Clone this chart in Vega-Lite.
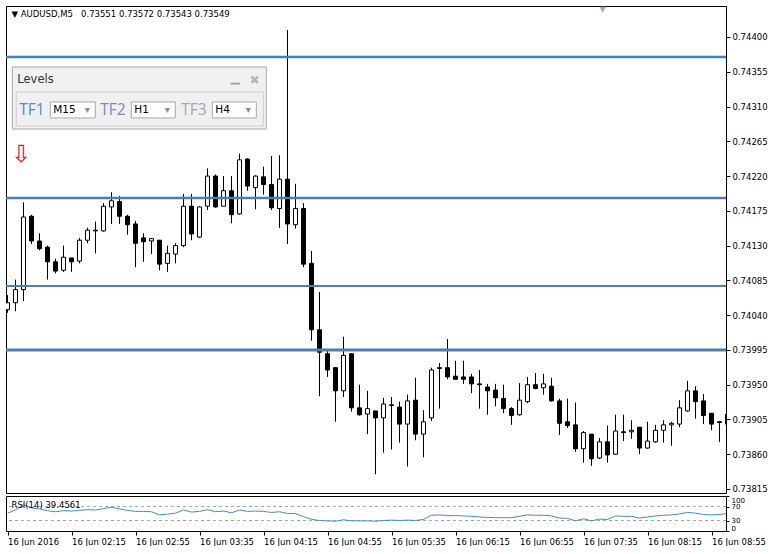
{
  "$schema": "https://vega.github.io/schema/vega-lite/v6.json",
  "padding": {"left": 4, "top": 5, "right": 0, "bottom": 0},
  "background": "white",
  "spacing": 3,
  "bounds": "flush",
  "config": {
    "font": "DejaVu Sans",
    "view": {"stroke": "black", "strokeWidth": 1},
    "scale": {"continuousPadding": 0},
    "axis": {"grid": false, "domain": false, "tickColor": "black", "labelColor": "black", "labelFont": "DejaVu Sans", "labelFontSize": 8.5, "labelOverlap": false, "labelSeparation": 0}
  },
  "datasets": {
    "bars": [
      {"t":"2016-06-16 01:35","open":0.74047,"high":0.74066,"low":0.74043,"close":0.74056,"rsi":51},
      {"t":"2016-06-16 01:40","open":0.74056,"high":0.74086,"low":0.74045,"close":0.74073,"rsi":60},
      {"t":"2016-06-16 01:45","open":0.74073,"high":0.74186,"low":0.74058,"close":0.74167,"rsi":75},
      {"t":"2016-06-16 01:50","open":0.74168,"high":0.74170,"low":0.74132,"close":0.74136,"rsi":66},
      {"t":"2016-06-16 01:55","open":0.74136,"high":0.74146,"low":0.74124,"close":0.74126,"rsi":63},
      {"t":"2016-06-16 02:00","open":0.74128,"high":0.74130,"low":0.74086,"close":0.74109,"rsi":58},
      {"t":"2016-06-16 02:05","open":0.74109,"high":0.74113,"low":0.74094,"close":0.74097,"rsi":55},
      {"t":"2016-06-16 02:10","open":0.74098,"high":0.74130,"low":0.74096,"close":0.74115,"rsi":58},
      {"t":"2016-06-16 02:15","open":0.74114,"high":0.74114,"low":0.74096,"close":0.74109,"rsi":57},
      {"t":"2016-06-16 02:20","open":0.74110,"high":0.74140,"low":0.74107,"close":0.74137,"rsi":59},
      {"t":"2016-06-16 02:25","open":0.74137,"high":0.74153,"low":0.74133,"close":0.74150,"rsi":61},
      {"t":"2016-06-16 02:30","open":0.74149,"high":0.74161,"low":0.74120,"close":0.74150,"rsi":60},
      {"t":"2016-06-16 02:35","open":0.74149,"high":0.74185,"low":0.74148,"close":0.74181,"rsi":64},
      {"t":"2016-06-16 02:40","open":0.74180,"high":0.74199,"low":0.74158,"close":0.74188,"rsi":68},
      {"t":"2016-06-16 02:45","open":0.74187,"high":0.74194,"low":0.74158,"close":0.74168,"rsi":63},
      {"t":"2016-06-16 02:50","open":0.74168,"high":0.74170,"low":0.74144,"close":0.74157,"rsi":59},
      {"t":"2016-06-16 02:55","open":0.74158,"high":0.74162,"low":0.74102,"close":0.74133,"rsi":56},
      {"t":"2016-06-16 03:00","open":0.74140,"high":0.74146,"low":0.74109,"close":0.74135,"rsi":56},
      {"t":"2016-06-16 03:05","open":0.74136,"high":0.74139,"low":0.74119,"close":0.74139,"rsi":55},
      {"t":"2016-06-16 03:10","open":0.74137,"high":0.74137,"low":0.74098,"close":0.74106,"rsi":46},
      {"t":"2016-06-16 03:15","open":0.74107,"high":0.74130,"low":0.74096,"close":0.74120,"rsi":48},
      {"t":"2016-06-16 03:20","open":0.74119,"high":0.74133,"low":0.74107,"close":0.74130,"rsi":51},
      {"t":"2016-06-16 03:25","open":0.74130,"high":0.74197,"low":0.74128,"close":0.74181,"rsi":60},
      {"t":"2016-06-16 03:30","open":0.74181,"high":0.74197,"low":0.74137,"close":0.74145,"rsi":54},
      {"t":"2016-06-16 03:35","open":0.74141,"high":0.74181,"low":0.74140,"close":0.74180,"rsi":56},
      {"t":"2016-06-16 03:40","open":0.74181,"high":0.74230,"low":0.74176,"close":0.74220,"rsi":61},
      {"t":"2016-06-16 03:45","open":0.74220,"high":0.74222,"low":0.74179,"close":0.74180,"rsi":55},
      {"t":"2016-06-16 03:50","open":0.74181,"high":0.74220,"low":0.74181,"close":0.74201,"rsi":57},
      {"t":"2016-06-16 03:55","open":0.74201,"high":0.74220,"low":0.74159,"close":0.74170,"rsi":52},
      {"t":"2016-06-16 04:00","open":0.74171,"high":0.74249,"low":0.74170,"close":0.74241,"rsi":60},
      {"t":"2016-06-16 04:05","open":0.74242,"high":0.74243,"low":0.74201,"close":0.74207,"rsi":56},
      {"t":"2016-06-16 04:10","open":0.74205,"high":0.74221,"low":0.74177,"close":0.74220,"rsi":57},
      {"t":"2016-06-16 04:15","open":0.74219,"high":0.74232,"low":0.74196,"close":0.74209,"rsi":56},
      {"t":"2016-06-16 04:20","open":0.74209,"high":0.74246,"low":0.74176,"close":0.74179,"rsi":53},
      {"t":"2016-06-16 04:25","open":0.74178,"high":0.74247,"low":0.74153,"close":0.74216,"rsi":55},
      {"t":"2016-06-16 04:30","open":0.74216,"high":0.74409,"low":0.74132,"close":0.74158,"rsi":50},
      {"t":"2016-06-16 04:35","open":0.74157,"high":0.74210,"low":0.74152,"close":0.74178,"rsi":50},
      {"t":"2016-06-16 04:40","open":0.74178,"high":0.74185,"low":0.74102,"close":0.74106,"rsi":41},
      {"t":"2016-06-16 04:45","open":0.74107,"high":0.74123,"low":0.74007,"close":0.74021,"rsi":33},
      {"t":"2016-06-16 04:50","open":0.74021,"high":0.74070,"low":0.73935,"close":0.73992,"rsi":30},
      {"t":"2016-06-16 04:55","open":0.73990,"high":0.73994,"low":0.73960,"close":0.73969,"rsi":29},
      {"t":"2016-06-16 05:00","open":0.73972,"high":0.73973,"low":0.73902,"close":0.73942,"rsi":28},
      {"t":"2016-06-16 05:05","open":0.73942,"high":0.74012,"low":0.73934,"close":0.73988,"rsi":32},
      {"t":"2016-06-16 05:10","open":0.73990,"high":0.73990,"low":0.73915,"close":0.73920,"rsi":29},
      {"t":"2016-06-16 05:15","open":0.73920,"high":0.73950,"low":0.73910,"close":0.73911,"rsi":29},
      {"t":"2016-06-16 05:20","open":0.73912,"high":0.73942,"low":0.73886,"close":0.73919,"rsi":29},
      {"t":"2016-06-16 05:25","open":0.73916,"high":0.73916,"low":0.73834,"close":0.73907,"rsi":28},
      {"t":"2016-06-16 05:30","open":0.73907,"high":0.73933,"low":0.73862,"close":0.73925,"rsi":30},
      {"t":"2016-06-16 05:35","open":0.73923,"high":0.73934,"low":0.73866,"close":0.73924,"rsi":31},
      {"t":"2016-06-16 05:40","open":0.73921,"high":0.73928,"low":0.73875,"close":0.73899,"rsi":30},
      {"t":"2016-06-16 05:45","open":0.73899,"high":0.73937,"low":0.73844,"close":0.73929,"rsi":31},
      {"t":"2016-06-16 05:50","open":0.73930,"high":0.73959,"low":0.73878,"close":0.73886,"rsi":30},
      {"t":"2016-06-16 05:55","open":0.73886,"high":0.73917,"low":0.73856,"close":0.73902,"rsi":33},
      {"t":"2016-06-16 06:00","open":0.73907,"high":0.73972,"low":0.73903,"close":0.73969,"rsi":45},
      {"t":"2016-06-16 06:05","open":0.73972,"high":0.73978,"low":0.73919,"close":0.73971,"rsi":46},
      {"t":"2016-06-16 06:10","open":0.73972,"high":0.74009,"low":0.73957,"close":0.73960,"rsi":44},
      {"t":"2016-06-16 06:15","open":0.73961,"high":0.73981,"low":0.73957,"close":0.73957,"rsi":44},
      {"t":"2016-06-16 06:20","open":0.73960,"high":0.73981,"low":0.73951,"close":0.73957,"rsi":43},
      {"t":"2016-06-16 06:25","open":0.73960,"high":0.73964,"low":0.73939,"close":0.73951,"rsi":42},
      {"t":"2016-06-16 06:30","open":0.73951,"high":0.73969,"low":0.73919,"close":0.73950,"rsi":40},
      {"t":"2016-06-16 06:35","open":0.73947,"high":0.73951,"low":0.73911,"close":0.73942,"rsi":39},
      {"t":"2016-06-16 06:40","open":0.73943,"high":0.73951,"low":0.73922,"close":0.73933,"rsi":38},
      {"t":"2016-06-16 06:45","open":0.73932,"high":0.73950,"low":0.73913,"close":0.73919,"rsi":38},
      {"t":"2016-06-16 06:50","open":0.73919,"high":0.73921,"low":0.73898,"close":0.73910,"rsi":38},
      {"t":"2016-06-16 06:55","open":0.73911,"high":0.73952,"low":0.73910,"close":0.73930,"rsi":42},
      {"t":"2016-06-16 07:00","open":0.73928,"high":0.73960,"low":0.73926,"close":0.73950,"rsi":46},
      {"t":"2016-06-16 07:05","open":0.73950,"high":0.73965,"low":0.73944,"close":0.73945,"rsi":45},
      {"t":"2016-06-16 07:10","open":0.73946,"high":0.73964,"low":0.73937,"close":0.73951,"rsi":45},
      {"t":"2016-06-16 07:15","open":0.73948,"high":0.73959,"low":0.73928,"close":0.73929,"rsi":43},
      {"t":"2016-06-16 07:20","open":0.73929,"high":0.73932,"low":0.73885,"close":0.73900,"rsi":37},
      {"t":"2016-06-16 07:25","open":0.73902,"high":0.73932,"low":0.73894,"close":0.73897,"rsi":36},
      {"t":"2016-06-16 07:30","open":0.73898,"high":0.73927,"low":0.73863,"close":0.73867,"rsi":29},
      {"t":"2016-06-16 07:35","open":0.73867,"high":0.73890,"low":0.73849,"close":0.73888,"rsi":35},
      {"t":"2016-06-16 07:40","open":0.73886,"high":0.73886,"low":0.73845,"close":0.73854,"rsi":29},
      {"t":"2016-06-16 07:45","open":0.73855,"high":0.73881,"low":0.73854,"close":0.73876,"rsi":34},
      {"t":"2016-06-16 07:50","open":0.73876,"high":0.73897,"low":0.73849,"close":0.73859,"rsi":33},
      {"t":"2016-06-16 07:55","open":0.73860,"high":0.73911,"low":0.73859,"close":0.73890,"rsi":43},
      {"t":"2016-06-16 08:00","open":0.73889,"high":0.73911,"low":0.73877,"close":0.73888,"rsi":42},
      {"t":"2016-06-16 08:05","open":0.73889,"high":0.73904,"low":0.73880,"close":0.73891,"rsi":42},
      {"t":"2016-06-16 08:10","open":0.73895,"high":0.73895,"low":0.73860,"close":0.73868,"rsi":37},
      {"t":"2016-06-16 08:15","open":0.73868,"high":0.73902,"low":0.73867,"close":0.73877,"rsi":40},
      {"t":"2016-06-16 08:20","open":0.73876,"high":0.73898,"low":0.73875,"close":0.73891,"rsi":43},
      {"t":"2016-06-16 08:25","open":0.73891,"high":0.73904,"low":0.73875,"close":0.73898,"rsi":45},
      {"t":"2016-06-16 08:30","open":0.73898,"high":0.73902,"low":0.73871,"close":0.73900,"rsi":46},
      {"t":"2016-06-16 08:35","open":0.73899,"high":0.73930,"low":0.73895,"close":0.73920,"rsi":49},
      {"t":"2016-06-16 08:40","open":0.73916,"high":0.73955,"low":0.73915,"close":0.73942,"rsi":53},
      {"t":"2016-06-16 08:45","open":0.73942,"high":0.73948,"low":0.73906,"close":0.73928,"rsi":51},
      {"t":"2016-06-16 08:50","open":0.73929,"high":0.73938,"low":0.73899,"close":0.73910,"rsi":47},
      {"t":"2016-06-16 08:55","open":0.73913,"high":0.73913,"low":0.73891,"close":0.73899,"rsi":46},
      {"t":"2016-06-16 09:00","open":0.73902,"high":0.73903,"low":0.73876,"close":0.73901,"rsi":47},
      {"t":"2016-06-16 09:05","open":0.73899,"high":0.73917,"low":0.73881,"close":0.73912,"rsi":50}
    ],
    "levels": [
      {"price": 0.743741, "timeframe": "H1"},
      {"price": 0.741916, "timeframe": "H1"},
      {"price": 0.740777, "timeframe": "M15"},
      {"price": 0.739949, "timeframe": "H4"}
    ],
    "rsiLevels": [{"level": 70}, {"level": 30}],
    "one": [{}]
  },
  "vconcat": [
    {
      "width": 720,
      "height": 487,
      "layer": [
        {
          "data": {"name": "bars"},
          "mark": {"type": "rule", "color": "black", "strokeWidth": 1, "clip": true},
          "encoding": {
            "x": {"field": "t", "type": "temporal", "scale": {"domain": [{"year":2016,"month":6,"date":16,"hours":1,"minutes":34,"seconds":3,"milliseconds":750},{"year":2016,"month":6,"date":16,"hours":9,"minutes":4,"seconds":3,"milliseconds":750}], "padding": 0, "nice": false}, "axis": null},
            "y": {"field": "low", "type": "quantitative", "scale": {"domain": [0.738098, 0.744401], "zero": false, "nice": false, "padding": 0},
              "axis": {"orient": "right", "title": null, "values": [0.73815,0.73860,0.73905,0.73950,0.73995,0.74040,0.74085,0.74130,0.74175,0.74220,0.74265,0.74310,0.74355,0.74400], "tickCount": 30, "format": ".5f", "tickSize": 4, "labelPadding": 2, "labelFlush": false, "labelOverlap": false}},
            "y2": {"field": "high"}
          }
        },
        {
          "data": {"name": "bars"},
          "mark": {"type": "bar", "size": 4, "stroke": "black", "strokeWidth": 1, "clip": true},
          "encoding": {
            "x": {"field": "t", "type": "temporal"},
            "y": {"field": "open", "type": "quantitative"},
            "y2": {"field": "close"},
            "fill": {"condition": {"test": "datum.close < datum.open", "value": "black"}, "value": "white"}
          }
        },
        {
          "data": {"name": "levels"},
          "mark": {"type": "rule", "color": "#4b80ae"},
          "encoding": {
            "y": {"field": "price", "type": "quantitative"},
            "strokeWidth": {"field": "timeframe", "type": "nominal", "scale": {"domain": ["M15", "H1", "H4"], "range": [2, 3, 3.5]}, "legend": null}
          }
        },
        {
          "data": {"name": "one"},
          "mark": {"type": "text", "text": "▼\u00a0AUDUSD,M5\u00a0\u00a0 0.73551 0.73572 0.73543 0.73549", "align": "left", "baseline": "middle", "fontSize": 8.5, "color": "black", "font": "DejaVu Sans"},
          "encoding": {
            "x": {"datum": {"year":2016,"month":6,"date":16,"hours":1,"minutes":37,"seconds":30}, "type": "temporal"},
            "y": {"datum": 0.744298, "type": "quantitative"}
          }
        },
        {
          "data": {"name": "one"},
          "mark": {"type": "rect", "fill": "#f0f0f0", "stroke": "#a8a8a8", "strokeWidth": 1},
          "encoding": {
            "x": {"datum": {"year":2016,"month":6,"date":16,"hours":1,"minutes":38,"seconds":0}, "type": "temporal"},
            "x2": {"datum": {"year":2016,"month":6,"date":16,"hours":4,"minutes":16,"seconds":45}},
            "y": {"datum": 0.743612, "type": "quantitative"},
            "y2": {"datum": 0.742809}
          }
        },
        {
          "data": {"name": "one"},
          "mark": {"type": "rect", "fill": "#f0f0f0", "stroke": "#cfcfcf", "strokeWidth": 1},
          "encoding": {
            "x": {"datum": {"year":2016,"month":6,"date":16,"hours":1,"minutes":40,"seconds":30}, "type": "temporal"},
            "x2": {"datum": {"year":2016,"month":6,"date":16,"hours":4,"minutes":14,"seconds":52,"milliseconds":500}},
            "y": {"datum": 0.743288, "type": "quantitative"},
            "y2": {"datum": 0.742848}
          }
        },
        {
          "data": {"name": "one"},
          "mark": {"type": "rect", "fill": "white", "stroke": "#a8a8a8", "strokeWidth": 1},
          "encoding": {
            "x": {"datum": {"year":2016,"month":6,"date":16,"hours":2,"minutes":1,"seconds":45}, "type": "temporal"},
            "x2": {"datum": {"year":2016,"month":6,"date":16,"hours":2,"minutes":29,"seconds":52,"milliseconds":500}},
            "y": {"datum": 0.743159, "type": "quantitative"},
            "y2": {"datum": 0.742952}
          }
        },
        {
          "data": {"name": "one"},
          "mark": {"type": "rect", "fill": "white", "stroke": "#a8a8a8", "strokeWidth": 1},
          "encoding": {
            "x": {"datum": {"year":2016,"month":6,"date":16,"hours":2,"minutes":52,"seconds":22,"milliseconds":500}, "type": "temporal"},
            "x2": {"datum": {"year":2016,"month":6,"date":16,"hours":3,"minutes":19,"seconds":52,"milliseconds":500}},
            "y": {"datum": 0.743159, "type": "quantitative"},
            "y2": {"datum": 0.742952}
          }
        },
        {
          "data": {"name": "one"},
          "mark": {"type": "rect", "fill": "white", "stroke": "#a8a8a8", "strokeWidth": 1},
          "encoding": {
            "x": {"datum": {"year":2016,"month":6,"date":16,"hours":3,"minutes":43,"seconds":0}, "type": "temporal"},
            "x2": {"datum": {"year":2016,"month":6,"date":16,"hours":4,"minutes":10,"seconds":30}},
            "y": {"datum": 0.743159, "type": "quantitative"},
            "y2": {"datum": 0.742952}
          }
        },
        {
          "data": {"name": "one"},
          "mark": {"type": "text", "text": "Levels", "align": "left", "baseline": "middle", "fontSize": 11.5, "color": "#333333", "font": "DejaVu Sans"},
          "encoding": {
            "x": {"datum": {"year":2016,"month":6,"date":16,"hours":1,"minutes":41,"seconds":7,"milliseconds":500}, "type": "temporal"},
            "y": {"datum": 0.743444, "type": "quantitative"}
          }
        },
        {
          "data": {"name": "one"},
          "mark": {"type": "rule", "color": "#a8a8a8", "strokeWidth": 2},
          "encoding": {
            "x": {"datum": {"year":2016,"month":6,"date":16,"hours":3,"minutes":54,"seconds":27}, "type": "temporal"},
            "x2": {"datum": {"year":2016,"month":6,"date":16,"hours":4,"minutes":0,"seconds":19}},
            "y": {"datum": 0.743396, "type": "quantitative"}
          }
        },
        {
          "data": {"name": "one"},
          "mark": {"type": "text", "text": "✖", "align": "center", "baseline": "middle", "fontSize": 12, "color": "#b4b4b4"},
          "encoding": {
            "x": {"datum": {"year":2016,"month":6,"date":16,"hours":4,"minutes":9,"seconds":27}, "type": "temporal"},
            "y": {"datum": 0.743444, "type": "quantitative"}
          }
        },
        {
          "data": {"name": "one"},
          "mark": {"type": "text", "text": "TF1", "align": "left", "baseline": "middle", "fontSize": 15.5, "color": "#4f8bc9", "font": "Open Sans"},
          "encoding": {
            "x": {"datum": {"year":2016,"month":6,"date":16,"hours":1,"minutes":42,"seconds":22,"milliseconds":500}, "type": "temporal"},
            "y": {"datum": 0.743055, "type": "quantitative"}
          }
        },
        {
          "data": {"name": "one"},
          "mark": {"type": "text", "text": "TF2", "align": "left", "baseline": "middle", "fontSize": 15.5, "color": "#8e7cd6", "font": "Open Sans"},
          "encoding": {
            "x": {"datum": {"year":2016,"month":6,"date":16,"hours":2,"minutes":33,"seconds":0}, "type": "temporal"},
            "y": {"datum": 0.743055, "type": "quantitative"}
          }
        },
        {
          "data": {"name": "one"},
          "mark": {"type": "text", "text": "TF3", "align": "left", "baseline": "middle", "fontSize": 15.5, "color": "#9da8b3", "font": "Open Sans"},
          "encoding": {
            "x": {"datum": {"year":2016,"month":6,"date":16,"hours":3,"minutes":23,"seconds":37,"milliseconds":500}, "type": "temporal"},
            "y": {"datum": 0.743055, "type": "quantitative"}
          }
        },
        {
          "data": {"name": "one"},
          "mark": {"type": "text", "text": "M15", "align": "left", "baseline": "middle", "fontSize": 10.5, "color": "black"},
          "encoding": {
            "x": {"datum": {"year":2016,"month":6,"date":16,"hours":2,"minutes":3,"seconds":37,"milliseconds":500}, "type": "temporal"},
            "y": {"datum": 0.743055, "type": "quantitative"}
          }
        },
        {
          "data": {"name": "one"},
          "mark": {"type": "text", "text": "H1", "align": "left", "baseline": "middle", "fontSize": 10.5, "color": "black"},
          "encoding": {
            "x": {"datum": {"year":2016,"month":6,"date":16,"hours":2,"minutes":54,"seconds":15}, "type": "temporal"},
            "y": {"datum": 0.743055, "type": "quantitative"}
          }
        },
        {
          "data": {"name": "one"},
          "mark": {"type": "text", "text": "H4", "align": "left", "baseline": "middle", "fontSize": 10.5, "color": "black"},
          "encoding": {
            "x": {"datum": {"year":2016,"month":6,"date":16,"hours":3,"minutes":44,"seconds":52,"milliseconds":500}, "type": "temporal"},
            "y": {"datum": 0.743055, "type": "quantitative"}
          }
        },
        {
          "data": {"name": "one"},
          "mark": {"type": "text", "text": "▾", "align": "center", "baseline": "middle", "fontSize": 10, "color": "#8a8a8a"},
          "encoding": {
            "x": {"datum": {"year":2016,"month":6,"date":16,"hours":2,"minutes":24,"seconds":52,"milliseconds":500}, "type": "temporal"},
            "y": {"datum": 0.743055, "type": "quantitative"}
          }
        },
        {
          "data": {"name": "one"},
          "mark": {"type": "text", "text": "▾", "align": "center", "baseline": "middle", "fontSize": 10, "color": "#8a8a8a"},
          "encoding": {
            "x": {"datum": {"year":2016,"month":6,"date":16,"hours":3,"minutes":14,"seconds":52,"milliseconds":500}, "type": "temporal"},
            "y": {"datum": 0.743055, "type": "quantitative"}
          }
        },
        {
          "data": {"name": "one"},
          "mark": {"type": "text", "text": "▾", "align": "center", "baseline": "middle", "fontSize": 10, "color": "#8a8a8a"},
          "encoding": {
            "x": {"datum": {"year":2016,"month":6,"date":16,"hours":4,"minutes":5,"seconds":30}, "type": "temporal"},
            "y": {"datum": 0.743055, "type": "quantitative"}
          }
        },
        {
          "data": {"name": "one"},
          "mark": {"type": "text", "text": "⇩", "align": "center", "baseline": "middle", "fontSize": 24, "color": "#d42020"},
          "encoding": {
            "x": {"datum": {"year":2016,"month":6,"date":16,"hours":1,"minutes":43,"seconds":37,"milliseconds":500}, "type": "temporal"},
            "y": {"datum": 0.742473, "type": "quantitative"}
          }
        },
        {
          "data": {"name": "one"},
          "mark": {"type": "text", "text": "▼", "align": "center", "baseline": "top", "fontSize": 8, "color": "#a8a8a8"},
          "encoding": {
            "x": {"datum": {"year":2016,"month":6,"date":16,"hours":7,"minutes":46,"seconds":52,"milliseconds":500}, "type": "temporal"},
            "y": {"datum": 0.744401, "type": "quantitative"}
          }
        }
      ]
    },
    {
      "width": 720,
      "height": 35,
      "layer": [
        {
          "data": {"name": "rsiLevels"},
          "mark": {"type": "rule", "color": "#a8a8a8", "strokeWidth": 1, "strokeDash": [3, 3]},
          "encoding": {
            "y": {"field": "level", "type": "quantitative", "scale": {"domain": [0, 100], "nice": false, "padding": 0}}
          }
        },
        {
          "data": {"name": "bars"},
          "mark": {"type": "line", "color": "#3d8fc4", "strokeWidth": 1, "clip": true},
          "encoding": {
            "x": {"field": "t", "type": "temporal", "scale": {"domain": [{"year":2016,"month":6,"date":16,"hours":1,"minutes":34,"seconds":3,"milliseconds":750},{"year":2016,"month":6,"date":16,"hours":9,"minutes":4,"seconds":3,"milliseconds":750}], "padding": 0, "nice": false},
              "axis": {"title": null, "orient": "bottom",
                "values": [
                  {"year":2016,"month":6,"date":16,"hours":1,"minutes":35},
                  {"year":2016,"month":6,"date":16,"hours":2,"minutes":15},
                  {"year":2016,"month":6,"date":16,"hours":2,"minutes":55},
                  {"year":2016,"month":6,"date":16,"hours":3,"minutes":35},
                  {"year":2016,"month":6,"date":16,"hours":4,"minutes":15},
                  {"year":2016,"month":6,"date":16,"hours":4,"minutes":55},
                  {"year":2016,"month":6,"date":16,"hours":5,"minutes":35},
                  {"year":2016,"month":6,"date":16,"hours":6,"minutes":15},
                  {"year":2016,"month":6,"date":16,"hours":6,"minutes":55},
                  {"year":2016,"month":6,"date":16,"hours":7,"minutes":35},
                  {"year":2016,"month":6,"date":16,"hours":8,"minutes":15},
                  {"year":2016,"month":6,"date":16,"hours":8,"minutes":55}
                ],
                "tickCount": 30,
                "labelExpr": "hours(datum.value) == 1 && minutes(datum.value) == 35 ? '16 Jun 2016' : timeFormat(datum.value, '%d %b %H:%M')",
                "labelAlign": "left", "labelBaseline": "top", "labelPadding": 2, "tickSize": 4, "labelOverlap": false, "labelFlush": false}},
            "y": {"field": "rsi", "type": "quantitative",
              "axis": {"orient": "right", "title": null, "values": [0, 30, 70, 100], "tickCount": 30, "tickSize": 3, "labelPadding": 2, "labelFontSize": 7, "labelFlush": true, "labelOverlap": false}}
          }
        },
        {
          "data": {"name": "one"},
          "mark": {"type": "text", "text": "RSI(14) 39.4561", "align": "left", "baseline": "middle", "fontSize": 8.5, "color": "black", "font": "DejaVu Sans"},
          "encoding": {
            "x": {"datum": {"year":2016,"month":6,"date":16,"hours":1,"minutes":37,"seconds":30}, "type": "temporal"},
            "y": {"datum": 75, "type": "quantitative"}
          }
        }
      ]
    }
  ]
}
